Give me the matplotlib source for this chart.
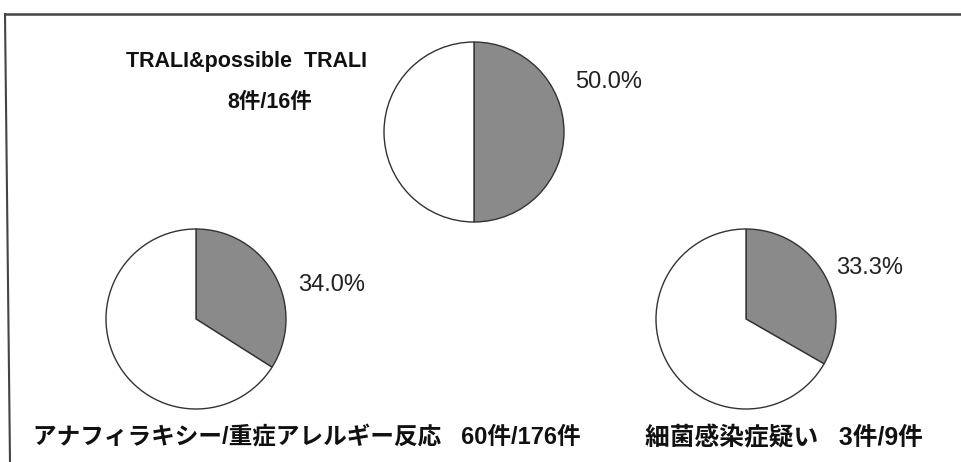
import matplotlib
matplotlib.use("Agg")
import matplotlib.pyplot as plt

plt.rcParams['font.family'] = ['Liberation Sans', 'Noto Sans CJK JP', 'DejaVu Sans']

# share of each reaction type (percent), as printed next to each pie
titles = ["TRALI&possible  TRALI",
          "アナフィラキシー/重症アレルギー反応   60件/176件",
          "細菌感染症疑い   3件/9件"]
subtitle = "8件/16件"
percents = [50.0, 34.0, 33.3]

W, H = 961, 462
fig = plt.figure(figsize=(W / 100, H / 100), dpi=100)
ax = fig.add_axes([0, 0, 1, 1])

# centres in pixels from top-left
centres = [(474, 132), (196, 319), (746, 319)]
radius = 90
pct_pos = [(609, 82), (332, 285), (870, 268)]

for (cx, cy), p, (px, py) in zip(centres, percents, pct_pos):
    ax.pie([p, 100 - p], center=(cx, H - cy), radius=radius,
           startangle=90, counterclock=False,
           colors=["#8a8a8a", "white"],
           wedgeprops=dict(edgecolor="#333333", linewidth=1.0))
    ax.text(px, H - py, f"{p:.1f}%", fontsize=17,
            ha="center", va="center", color="#222222")

ax.set_xlim(0, W)
ax.set_ylim(0, H)
ax.set_aspect("equal")
ax.axis("off")

ax.text(246, H - 62, titles[0], fontsize=15.5, fontweight="bold",
        ha="center", va="center", color="#111111")
ax.text(270, H - 103, subtitle, fontsize=15.5, fontweight="bold",
        ha="center", va="center", color="#111111")
ax.text(33, H - 438, titles[1], fontsize=17, fontweight="bold",
        ha="left", va="center", color="#111111")
ax.text(645, H - 438, titles[2], fontsize=17.8, fontweight="bold",
        ha="left", va="center", color="#111111")

# frame lines (top and left)
ax.plot([5, W], [H - 14, H - 14], color="#444444", linewidth=1.8)
ax.plot([5, 10], [H - 14, 0], color="#444444", linewidth=1.5)

fig.savefig("out.png", dpi=100)
